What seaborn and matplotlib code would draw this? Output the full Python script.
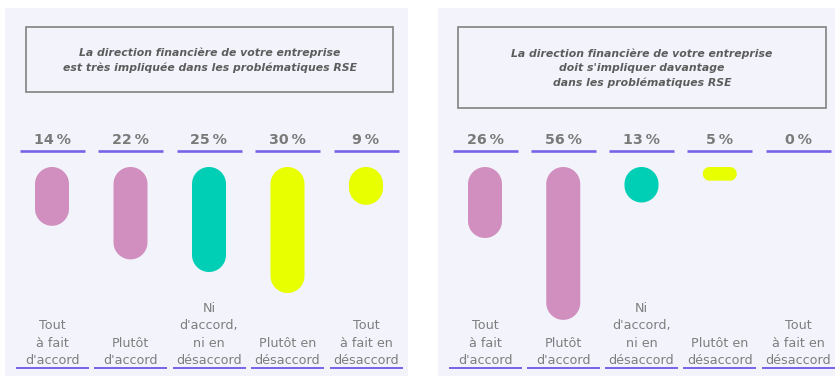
import numpy as np
import matplotlib
matplotlib.use("Agg")
import matplotlib.pyplot as plt
import matplotlib.transforms as mtransforms
from matplotlib.patches import PathPatch, Rectangle
from matplotlib.path import Path
from matplotlib.lines import Line2D
import pandas as pd
import seaborn as sns

# ---- data -------------------------------------------------------------
categories = [
    "Tout\nà fait\nd'accord",
    "Plutôt\nd'accord",
    "Ni\nd'accord,\nni en\ndésaccord",
    "Plutôt en\ndésaccord",
    "Tout\nà fait en\ndésaccord",
]
tres_impliquee = [14, 22, 25, 30, 9]
doit_s_impliquer = [26, 56, 13, 5, 0]
titles = [
    "La direction financière de votre entreprise\nest très impliquée dans les problématiques RSE",
    "La direction financière de votre entreprise\ndoit s'impliquer davantage\ndans les problématiques RSE",
]

# ---- style ------------------------------------------------------------
PINK = "#d18fc0"
TEAL = "#00cfb5"
YELLOW = "#e8ff00"
bar_colors = [PINK, PINK, TEAL, YELLOW, YELLOW]
PURPLE = "#7863e8"
PANEL_BG = "#f3f4fb"
TEXT_GREY = "#7e7e7e"

sns.set_theme(style="white")
plt.rcParams["font.family"] = ["DejaVu Sans"]

W, H = 835, 376
fig = plt.figure(figsize=(W / 100, H / 100), dpi=100)
fig.patch.set_facecolor("white")


def fx(px):
    return px / W


def fy(py):
    return 1 - py / H


def pill_path(x0, y0, w, h, n=24):
    """Rectangle with fully rounded ends (circular arcs), in pixels."""
    r = min(w, h) / 2
    corners = [
        (x0 + w - r, y0 + r, -90, 0),
        (x0 + w - r, y0 + h - r, 0, 90),
        (x0 + r, y0 + h - r, 90, 180),
        (x0 + r, y0 + r, 180, 270),
    ]
    pts = []
    for cx, cy, a0, a1 in corners:
        t = np.radians(np.linspace(a0, a1, n))
        pts.append(np.column_stack([cx + r * np.cos(t), cy + r * np.sin(t)]))
    verts = np.vstack(pts + [pts[0][:1]])
    codes = [Path.MOVETO] + [Path.LINETO] * (len(verts) - 2) + [Path.CLOSEPOLY]
    return Path(verts, codes)


# panel layout in pixels
panels = [
    dict(values=tres_impliquee, title=titles[0], bg=(5, 8, 408, 376),
         box=(26, 27, 393, 92), first_center=52, step=78.5, px_per_pct=4.2),
    dict(values=doit_s_impliquer, title=titles[1], bg=(438, 8, 835, 376),
         box=(458, 27, 826, 108), first_center=485, step=78.25, px_per_pct=2.73),
]

BAR_TOP = 167
BAR_W_PX = 34

for p in panels:
    x0, y0, x1, y1 = p["bg"]
    fig.patches.append(Rectangle((fx(x0), fy(y1)), fx(x1 - x0), (y1 - y0) / H,
                                 transform=fig.transFigure, facecolor=PANEL_BG,
                                 edgecolor="none", zorder=-10))
    bx0, by0, bx1, by1 = p["box"]
    fig.patches.append(Rectangle((fx(bx0), fy(by1)), fx(bx1 - bx0), (by1 - by0) / H,
                                 transform=fig.transFigure, facecolor="none",
                                 edgecolor="#8a8a8a", linewidth=1.3, zorder=-5))
    fig.text(fx((bx0 + bx1) / 2), fy((by0 + by1) / 2 + 0.5), p["title"],
             ha="center", va="center", fontsize=7.8, fontweight="bold",
             fontstyle="italic", color="#5c5c5c", linespacing=1.5)

    step = p["step"]
    left = p["first_center"] - step / 2
    ax_h = H - BAR_TOP
    ax = fig.add_axes([fx(left), 0, fx(step * 5), ax_h / H])
    ax.set_facecolor("none")

    df = pd.DataFrame({"cat": categories, "pct": p["values"]})
    sns.barplot(data=df, x="cat", y="pct", hue="cat", palette=bar_colors,
                order=categories, hue_order=categories, legend=False,
                width=BAR_W_PX / step, ax=ax, saturation=1)
    ax.set_xlim(-0.5, 4.5)
    ax.set_ylim(ax_h / p["px_per_pct"], 0)
    ax.set_axis_off()

    # swap the square bars for pills with round ends
    for patch in list(ax.patches):
        bb = patch.get_window_extent()
        color = patch.get_facecolor()
        patch.remove()
        if bb.height < 0.5:
            continue
        pill = PathPatch(pill_path(bb.x0, bb.y0, bb.width, bb.height),
                         transform=None, facecolor=color, edgecolor="none",
                         zorder=3)
        fig.patches.append(pill)

    top_tr = mtransforms.blended_transform_factory(ax.transData, fig.transFigure)
    half_pct_line = 32.5 / step
    half_cat_line = 36.5 / step
    for i, v in enumerate(p["values"]):
        ax.text(i, fy(139.5), f"{v}\u2009%", transform=top_tr, ha="center",
                va="center", fontsize=10.3, fontweight="bold",
                color="#7a7a7a", clip_on=False)
        ax.add_line(Line2D([i - half_pct_line, i + half_pct_line], [fy(150.5)] * 2,
                           transform=top_tr, color=PURPLE, linewidth=1.9,
                           solid_capstyle="butt", clip_on=False))
        ax.text(i, fy(367.5), categories[i], transform=top_tr, ha="center",
                va="bottom", fontsize=9.2, color=TEXT_GREY, linespacing=1.46,
                clip_on=False)
        ax.add_line(Line2D([i - half_cat_line, i + half_cat_line], [fy(368)] * 2,
                           transform=top_tr, color=PURPLE, linewidth=1.4,
                           solid_capstyle="butt", clip_on=False))

fig.savefig("out.png", dpi=100)
